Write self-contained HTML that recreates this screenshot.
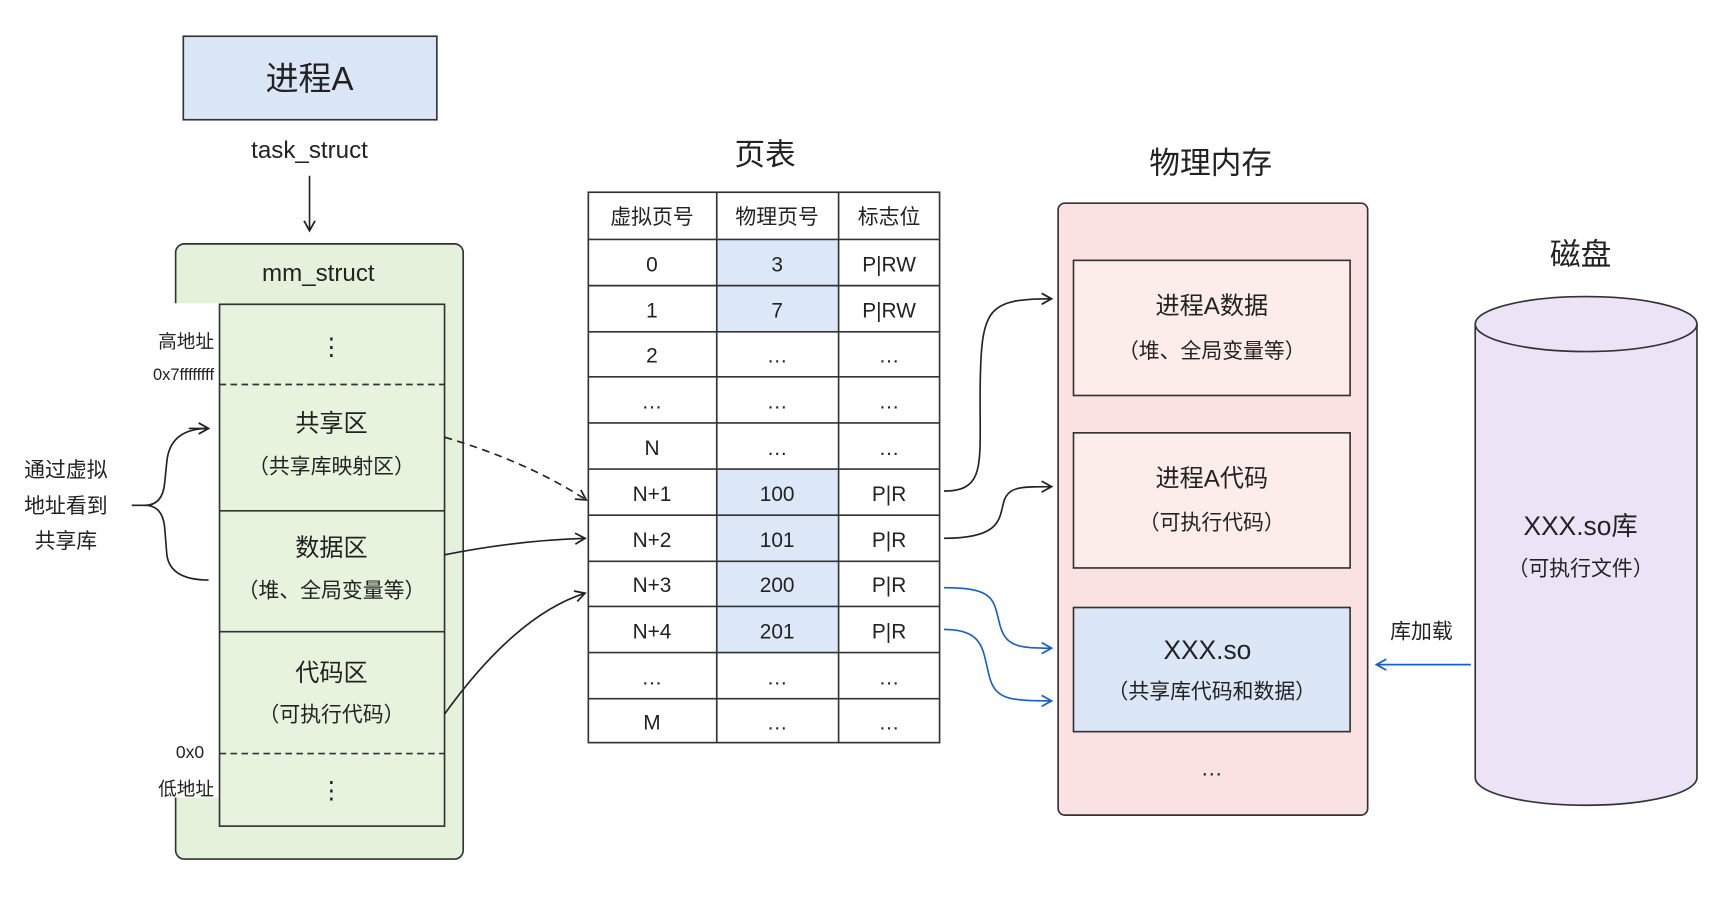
<!DOCTYPE html>
<html><head><meta charset="utf-8"><style>
html,body{margin:0;padding:0;background:#fff;}
svg{display:block;}
text{font-family:"Liberation Sans","Noto Sans CJK SC",sans-serif;fill:#222;}
</style></head><body>
<svg width="1720" height="914" viewBox="0 0 1567 832" preserveAspectRatio="none" xmlns="http://www.w3.org/2000/svg">
<defs>
<marker id="ar" markerWidth="12" markerHeight="12" refX="10" refY="6" orient="auto" markerUnits="userSpaceOnUse"><path d="M1,1 L10,6 L1,11" fill="none" stroke="#222" stroke-width="1.6"/></marker>
<marker id="ab" markerWidth="12" markerHeight="12" refX="10" refY="6" orient="auto" markerUnits="userSpaceOnUse"><path d="M1,1 L10,6 L1,11" fill="none" stroke="#1a5fc8" stroke-width="1.6"/></marker>
</defs>
<rect x="167" y="33" width="231" height="76" fill="#dae6f6" stroke="#333" stroke-width="1.5"/>
<text x="282" y="82" font-size="30" text-anchor="middle">进程A</text>
<text x="282" y="144" font-size="22" text-anchor="middle">task_struct</text>
<line x1="282" y1="160" x2="282" y2="210" stroke="#222" stroke-width="1.5" marker-end="url(#ar)"/>
<rect x="160" y="222" width="262" height="560" rx="8" fill="#e5f1da" stroke="#333" stroke-width="1.5"/>
<text x="290" y="256" font-size="22" text-anchor="middle">mm_struct</text>
<rect x="123" y="276" width="77" height="450" fill="#fff"/>
<rect x="200" y="277" width="205" height="475" fill="#e8f3de" stroke="#333" stroke-width="1.5"/>
<line x1="200" y1="350" x2="405" y2="350" stroke="#333" stroke-width="1.5" stroke-dasharray="6,4"/>
<line x1="200" y1="465" x2="405" y2="465" stroke="#333" stroke-width="1.5"/>
<line x1="200" y1="575" x2="405" y2="575" stroke="#333" stroke-width="1.5"/>
<line x1="200" y1="686" x2="405" y2="686" stroke="#333" stroke-width="1.5" stroke-dasharray="6,4"/>
<text x="302" y="323" font-size="22" text-anchor="middle">⋮</text>
<text x="302" y="393" font-size="22" text-anchor="middle">共享区</text>
<text x="302" y="431" font-size="19" text-anchor="middle">（共享库映射区）</text>
<text x="302" y="506" font-size="22" text-anchor="middle">数据区</text>
<text x="302" y="544" font-size="19" text-anchor="middle">（堆、全局变量等）</text>
<text x="302" y="620" font-size="22" text-anchor="middle">代码区</text>
<text x="302" y="657" font-size="19" text-anchor="middle">（可执行代码）</text>
<text x="302" y="727" font-size="22" text-anchor="middle">⋮</text>
<text x="195" y="317" font-size="17" text-anchor="end">高地址</text>
<text x="195" y="346" font-size="15" text-anchor="end">0x7ffffffff</text>
<text x="186" y="690" font-size="16" text-anchor="end">0x0</text>
<text x="195" y="724" font-size="17" text-anchor="end">低地址</text>
<text x="60" y="434" font-size="19" text-anchor="middle">通过虚拟</text>
<text x="60" y="467" font-size="19" text-anchor="middle">地址看到</text>
<text x="60" y="499" font-size="19" text-anchor="middle">共享库</text>
<path d="M190,390 Q155,390 152,420 L150,440 Q148,460 132,460 Q148,460 150,480 L152,505 Q155,528 190,528" fill="none" stroke="#222" stroke-width="1.5"/>
<line x1="172" y1="390" x2="190" y2="390" stroke="#222" stroke-width="1.5" marker-end="url(#ar)"/>
<line x1="120" y1="460" x2="133" y2="460" stroke="#222" stroke-width="1.5"/>
<text x="697" y="150" font-size="28" text-anchor="middle">页表</text>
<rect x="653" y="218" width="111" height="42" fill="#dce8f7"/>
<rect x="653" y="260" width="111" height="42" fill="#dce8f7"/>
<rect x="653" y="427" width="111" height="167" fill="#dce8f7"/>
<g stroke="#333" stroke-width="1.5" fill="none">
<rect x="536" y="175" width="320" height="501"/>
<line x1="653" y1="175" x2="653" y2="676"/><line x1="764" y1="175" x2="764" y2="676"/>
<line x1="536" y1="218" x2="856" y2="218"/><line x1="536" y1="260" x2="856" y2="260"/>
<line x1="536" y1="302" x2="856" y2="302"/><line x1="536" y1="343" x2="856" y2="343"/>
<line x1="536" y1="385" x2="856" y2="385"/><line x1="536" y1="427" x2="856" y2="427"/>
<line x1="536" y1="469" x2="856" y2="469"/><line x1="536" y1="511" x2="856" y2="511"/>
<line x1="536" y1="552" x2="856" y2="552"/><line x1="536" y1="594" x2="856" y2="594"/>
<line x1="536" y1="636" x2="856" y2="636"/>
</g>
<g font-size="19" text-anchor="middle">
<text x="594" y="204">虚拟页号</text><text x="708" y="204">物理页号</text><text x="810" y="204">标志位</text>
<text x="594" y="247">0</text><text x="708" y="247">3</text><text x="810" y="247">P|RW</text>
<text x="594" y="289">1</text><text x="708" y="289">7</text><text x="810" y="289">P|RW</text>
<text x="594" y="330">2</text><text x="708" y="330">…</text><text x="810" y="330">…</text>
<text x="594" y="372">…</text><text x="708" y="372">…</text><text x="810" y="372">…</text>
<text x="594" y="414">N</text><text x="708" y="414">…</text><text x="810" y="414">…</text>
<text x="594" y="456">N+1</text><text x="708" y="456">100</text><text x="810" y="456">P|R</text>
<text x="594" y="498">N+2</text><text x="708" y="498">101</text><text x="810" y="498">P|R</text>
<text x="594" y="539">N+3</text><text x="708" y="539">200</text><text x="810" y="539">P|R</text>
<text x="594" y="581">N+4</text><text x="708" y="581">201</text><text x="810" y="581">P|R</text>
<text x="594" y="623">…</text><text x="708" y="623">…</text><text x="810" y="623">…</text>
<text x="594" y="664">M</text><text x="708" y="664">…</text><text x="810" y="664">…</text>
</g>
<text x="1103" y="158" font-size="28" text-anchor="middle">物理内存</text>
<rect x="964" y="185" width="282" height="557" rx="6" fill="#fbe2e2" stroke="#333" stroke-width="1.5"/>
<rect x="978" y="237" width="252" height="123" fill="#fcecea" stroke="#333" stroke-width="1.5"/>
<rect x="978" y="394" width="252" height="123" fill="#fcecea" stroke="#333" stroke-width="1.5"/>
<rect x="978" y="553" width="252" height="113" fill="#dbe6f6" stroke="#333" stroke-width="1.5"/>
<text x="1104" y="286" font-size="22" text-anchor="middle">进程A数据</text>
<text x="1104" y="326" font-size="19" text-anchor="middle">（堆、全局变量等）</text>
<text x="1104" y="443" font-size="22" text-anchor="middle">进程A代码</text>
<text x="1104" y="482" font-size="19" text-anchor="middle">（可执行代码）</text>
<text x="1100" y="600" font-size="24" text-anchor="middle">XXX.so</text>
<text x="1104" y="636" font-size="19" text-anchor="middle">（共享库代码和数据）</text>
<text x="1104" y="706" font-size="20" text-anchor="middle">…</text>
<text x="1440" y="241" font-size="28" text-anchor="middle">磁盘</text>
<path d="M1344,295 L1344,708 A101,25 0 0 0 1546,708 L1546,295" fill="#ece4f6" stroke="#333" stroke-width="1.5"/>
<ellipse cx="1445" cy="295" rx="101" ry="25" fill="#ece4f6" stroke="#333" stroke-width="1.5"/>
<text x="1440" y="487" font-size="24" text-anchor="middle">XXX.so库</text>
<text x="1440" y="524" font-size="19" text-anchor="middle">（可执行文件）</text>
<text x="1295" y="581" font-size="19" text-anchor="middle">库加载</text>
<line x1="1340" y1="605" x2="1254" y2="605" stroke="#1a5fc8" stroke-width="1.6" marker-end="url(#ab)"/>
<path d="M405,398 Q480,420 534,455" fill="none" stroke="#222" stroke-width="1.5" stroke-dasharray="7,5" marker-end="url(#ar)"/>
<path d="M405,505 Q470,492 533,490" fill="none" stroke="#222" stroke-width="1.5" marker-end="url(#ar)"/>
<path d="M405,650 Q470,560 533,540" fill="none" stroke="#222" stroke-width="1.5" marker-end="url(#ar)"/>
<path d="M860,447 C900,447 892,420 893,350 C894,280 900,272 958,272" fill="none" stroke="#222" stroke-width="1.5" marker-end="url(#ar)"/>
<path d="M860,490 C915,490 910,470 915,455 C920,443 930,443 958,443" fill="none" stroke="#222" stroke-width="1.5" marker-end="url(#ar)"/>
<path d="M860,535 C905,535 905,545 910,565 C915,588 925,590 958,590" fill="none" stroke="#1a5fc8" stroke-width="1.5" marker-end="url(#ab)"/>
<path d="M860,573 C895,573 895,590 900,610 C905,636 915,638 958,638" fill="none" stroke="#1a5fc8" stroke-width="1.5" marker-end="url(#ab)"/>
</svg>
</body></html>
